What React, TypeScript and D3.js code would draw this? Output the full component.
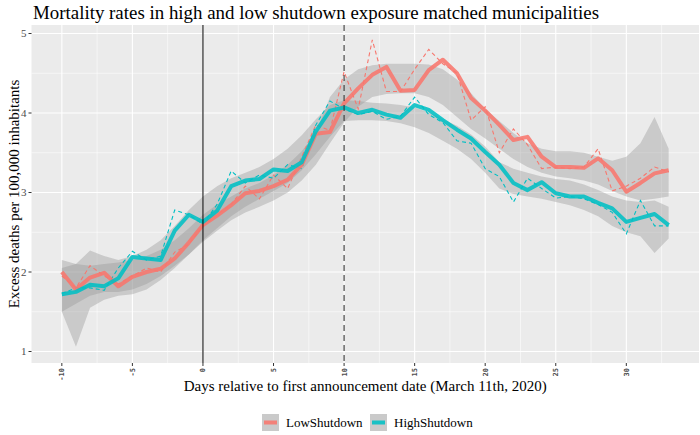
import React from "react";
import * as d3 from "d3";

const days = [-10, -9, -8, -7, -6, -5, -4, -3, -2, -1, 0, 1, 2, 3, 4, 5, 6, 7, 8, 9, 10, 11, 12, 13, 14, 15, 16, 17, 18, 19, 20, 21, 22, 23, 24, 25, 26, 27, 28, 29, 30, 31, 32, 33];

// thick lines (smoothed)
const lowAvg = [2.0, 1.78, 1.93, 1.99, 1.82, 1.94, 2.0, 2.04, 2.17, 2.37, 2.59, 2.71, 2.84, 2.99, 3.02, 3.08, 3.16, 3.35, 3.74, 3.76, 4.12, 4.31, 4.48, 4.58, 4.28, 4.29, 4.54, 4.67, 4.5, 4.19, 4.03, 3.85, 3.66, 3.7, 3.45, 3.32, 3.32, 3.31, 3.43, 3.28, 3.01, 3.12, 3.24, 3.28];
const highAvg = [1.72, 1.75, 1.84, 1.82, 1.92, 2.19, 2.17, 2.15, 2.52, 2.72, 2.63, 2.77, 3.08, 3.15, 3.17, 3.29, 3.27, 3.38, 3.77, 4.03, 4.07, 4.0, 4.04, 3.98, 3.94, 4.1, 4.04, 3.91, 3.79, 3.68, 3.51, 3.35, 3.12, 3.03, 3.13, 2.99, 2.95, 2.95, 2.87, 2.8, 2.63, 2.68, 2.73, 2.59];

// thin dashed lines (daily)
const lowDaily = [1.95, 1.8, 2.08, 1.95, 1.85, 1.95, 2.05, 2.0, 2.25, 2.35, 2.58, 2.72, 2.85, 3.08, 2.92, 3.22, 3.05, 3.45, 3.85, 3.78, 4.52, 4.05, 4.92, 4.27, 4.27, 4.55, 4.8, 4.62, 4.5, 3.91, 4.08, 3.5, 3.8, 3.6, 3.3, 3.32, 3.3, 3.32, 3.55, 3.02, 3.08, 3.18, 3.32, 3.26];
const highDaily = [1.73, 1.8, 1.8, 1.77, 2.05, 2.26, 2.15, 2.2, 2.78, 2.72, 2.6, 2.85, 3.27, 3.12, 3.22, 3.18, 3.35, 3.3, 3.85, 4.15, 4.05, 3.98, 4.02, 3.92, 3.96, 4.2, 3.98, 3.88, 3.65, 3.62, 3.3, 3.2, 2.88, 3.18, 3.05, 2.93, 2.95, 2.92, 2.85, 2.75, 2.48, 2.9, 2.58, 2.58];

// confidence bands
const lowLower = [1.5, 1.6, 1.7, 1.75, 1.75, 1.78, 1.85, 1.95, 2.08, 2.22, 2.38, 2.52, 2.65, 2.75, 2.82, 2.9, 3.0, 3.15, 3.35, 3.62, 3.88, 4.08, 4.2, 4.24, 4.25, 4.25, 4.2, 4.1, 3.95, 3.8, 3.68, 3.55, 3.42, 3.32, 3.25, 3.2, 3.18, 3.15, 3.1, 3.02, 2.95, 2.9, 2.92, 2.95];
const lowUpper = [2.15, 2.1, 2.08, 2.1, 2.12, 2.15, 2.2, 2.28, 2.4, 2.55, 2.72, 2.85, 2.95, 3.05, 3.12, 3.22, 3.35, 3.52, 3.75, 4.2, 4.42, 4.55, 4.6, 4.62, 4.62, 4.62, 4.61, 4.55, 4.42, 4.25, 4.05, 3.9, 3.75, 3.62, 3.55, 3.52, 3.52, 3.5, 3.45, 3.4, 3.45, 3.62, 3.95, 3.55];
const highLower = [1.5, 1.06, 1.55, 1.65, 1.7, 1.72, 1.78, 1.9, 2.05, 2.22, 2.4, 2.55, 2.7, 2.82, 2.92, 3.02, 3.12, 3.28, 3.48, 3.7, 3.9, 3.91, 3.91, 3.9, 3.87, 3.82, 3.75, 3.65, 3.55, 3.42, 3.25, 3.05, 2.98, 2.95, 2.92, 2.88, 2.84, 2.78, 2.7, 2.58, 2.5, 2.45, 2.24, 2.42];
const highUpper = [2.05, 2.1, 2.27, 2.2, 2.15, 2.2, 2.28, 2.4, 2.58, 2.78, 2.95, 3.08, 3.18, 3.25, 3.32, 3.42, 3.55, 3.72, 3.92, 4.1, 4.16, 4.15, 4.13, 4.12, 4.1, 4.07, 4.01, 3.92, 3.84, 3.73, 3.58, 3.38, 3.3, 3.25, 3.2, 3.17, 3.15, 3.1, 3.03, 2.95, 2.9, 2.88, 2.9, 2.82];

const xTicks = [-10, -5, 0, 5, 10, 15, 20, 25, 30];
const xMinor = [-7.5, -2.5, 2.5, 7.5, 12.5, 17.5, 22.5, 27.5, 32.5];
const yTicks = [1, 2, 3, 4, 5];
const yMinor = [1.5, 2.5, 3.5, 4.5];
const seriesNames = ["LowShutdown", "HighShutdown"];
const seriesColors = ["#F8766D", "#00BFC4"];

const FONT = "'Liberation Serif', 'Times New Roman', serif";

export default function App() {
  const W = 700, H = 435;
  const left = 31.5, right = 699, top = 25, bottom = 363;
  const x = d3.scaleLinear().domain([-12.15, 35.15]).range([left, right]);
  const y = d3.scaleLinear().domain([1, 5]).range([351.5, 33.5]);

  const line = (vals: number[]) =>
    d3.line<number>().x((_, i) => x(days[i])).y((v) => y(v))(vals) || "";
  const area = (lo: number[], hi: number[]) =>
    d3
      .area<number>()
      .x((_, i) => x(days[i]))
      .y0((_, i) => y(lo[i]))
      .y1((_, i) => y(hi[i]))(days.map((d) => d)) || "";

  const avgs = [lowAvg, highAvg];
  const dailies = [lowDaily, highDaily];

  return (
    <svg width={W} height={H} style={{ position: "absolute", left: 0, top: 0 }}>
      <rect x={0} y={0} width={W} height={H} fill="#fff" />
      <text x={33} y={19} fontFamily={FONT} fontSize={18.9} fill="#000">
        Mortality rates in high and low shutdown exposure matched municipalities
      </text>
      <clipPath id="panel">
        <rect x={left} y={top} width={right - left} height={bottom - top} />
      </clipPath>
      <rect x={left} y={top} width={right - left} height={bottom - top} fill="#EBEBEB" />
      {yMinor.map((v) => (
        <line key={"ym" + v} x1={left} x2={right} y1={y(v)} y2={y(v)} stroke="#fff" strokeWidth={0.55} />
      ))}
      {xMinor.map((v) => (
        <line key={"xm" + v} x1={x(v)} x2={x(v)} y1={top} y2={bottom} stroke="#fff" strokeWidth={0.55} />
      ))}
      {yTicks.map((v) => (
        <line key={"yg" + v} x1={left} x2={right} y1={y(v)} y2={y(v)} stroke="#fff" strokeWidth={1.1} />
      ))}
      {xTicks.map((v) => (
        <line key={"xg" + v} x1={x(v)} x2={x(v)} y1={top} y2={bottom} stroke="#fff" strokeWidth={1.1} />
      ))}
      <g clipPath="url(#panel)">
        <path d={area(lowLower, lowUpper)} fill="#999999" fillOpacity={0.4} />
        <path d={area(highLower, highUpper)} fill="#999999" fillOpacity={0.4} />
        {dailies.map((vals, i) => (
          <path key={"d" + i} d={line(vals)} fill="none" stroke={seriesColors[i]} strokeWidth={1.1} strokeDasharray="4,3" />
        ))}
        {avgs.map((vals, i) => (
          <path key={"a" + i} d={line(vals)} fill="none" stroke={seriesColors[i]} strokeWidth={4} strokeOpacity={0.88} strokeLinejoin="round" />
        ))}
        <line x1={x(0)} x2={x(0)} y1={top} y2={bottom} stroke="#000" strokeWidth={1} />
        <line x1={x(10)} x2={x(10)} y1={top} y2={bottom} stroke="#333" strokeWidth={1.1} strokeDasharray="6,4" />
      </g>
      {yTicks.map((v) => (
        <g key={"yt" + v}>
          <line x1={left - 3} x2={left} y1={y(v)} y2={y(v)} stroke="#333" strokeWidth={1} />
          <text x={left - 5} y={y(v)} dy="0.35em" textAnchor="end" fontFamily={FONT} fontSize={11} fill="#4D4D4D">
            {v}
          </text>
        </g>
      ))}
      {xTicks.map((v) => (
        <g key={"xt" + v}>
          <line x1={x(v)} x2={x(v)} y1={bottom} y2={bottom + 3} stroke="#333" strokeWidth={1} />
          <text
            transform={`translate(${x(v)},${bottom + 5}) rotate(-90)`}
            dy="0.35em"
            textAnchor="end"
            fontFamily="'DejaVu Sans Mono', monospace"
            fontWeight="bold"
            fontSize={7}
            fill="#4D4D4D"
          >
            {v}
          </text>
        </g>
      ))}
      <text x={(left + right) / 2} y={391} textAnchor="middle" fontFamily={FONT} fontSize={15} fill="#000">
        Days relative to first announcement date (March 11th, 2020)
      </text>
      <text
        transform={`translate(19,${(top + bottom) / 2}) rotate(-90)`}
        textAnchor="middle"
        fontFamily={FONT}
        fontSize={15}
        fill="#000"
      >
        Excess deaths per 100,000 inhabitants
      </text>
      {seriesNames.map((name, i) => {
        const kx = i === 0 ? 262 : 370;
        const ky = 414;
        return (
          <g key={name}>
            <rect x={kx} y={ky} width={17} height={17} fill="#EBEBEB" />
            <rect x={kx} y={ky} width={17} height={17} fill="#999999" fillOpacity={0.4} />
            <line x1={kx + 2} x2={kx + 15} y1={ky + 8.5} y2={ky + 8.5} stroke={seriesColors[i]} strokeWidth={4} strokeOpacity={0.88} />
            <text x={kx + 24} y={ky + 8.5} dy="0.35em" fontFamily={FONT} fontSize={13} fill="#000">
              {name}
            </text>
          </g>
        );
      })}
    </svg>
  );
}
